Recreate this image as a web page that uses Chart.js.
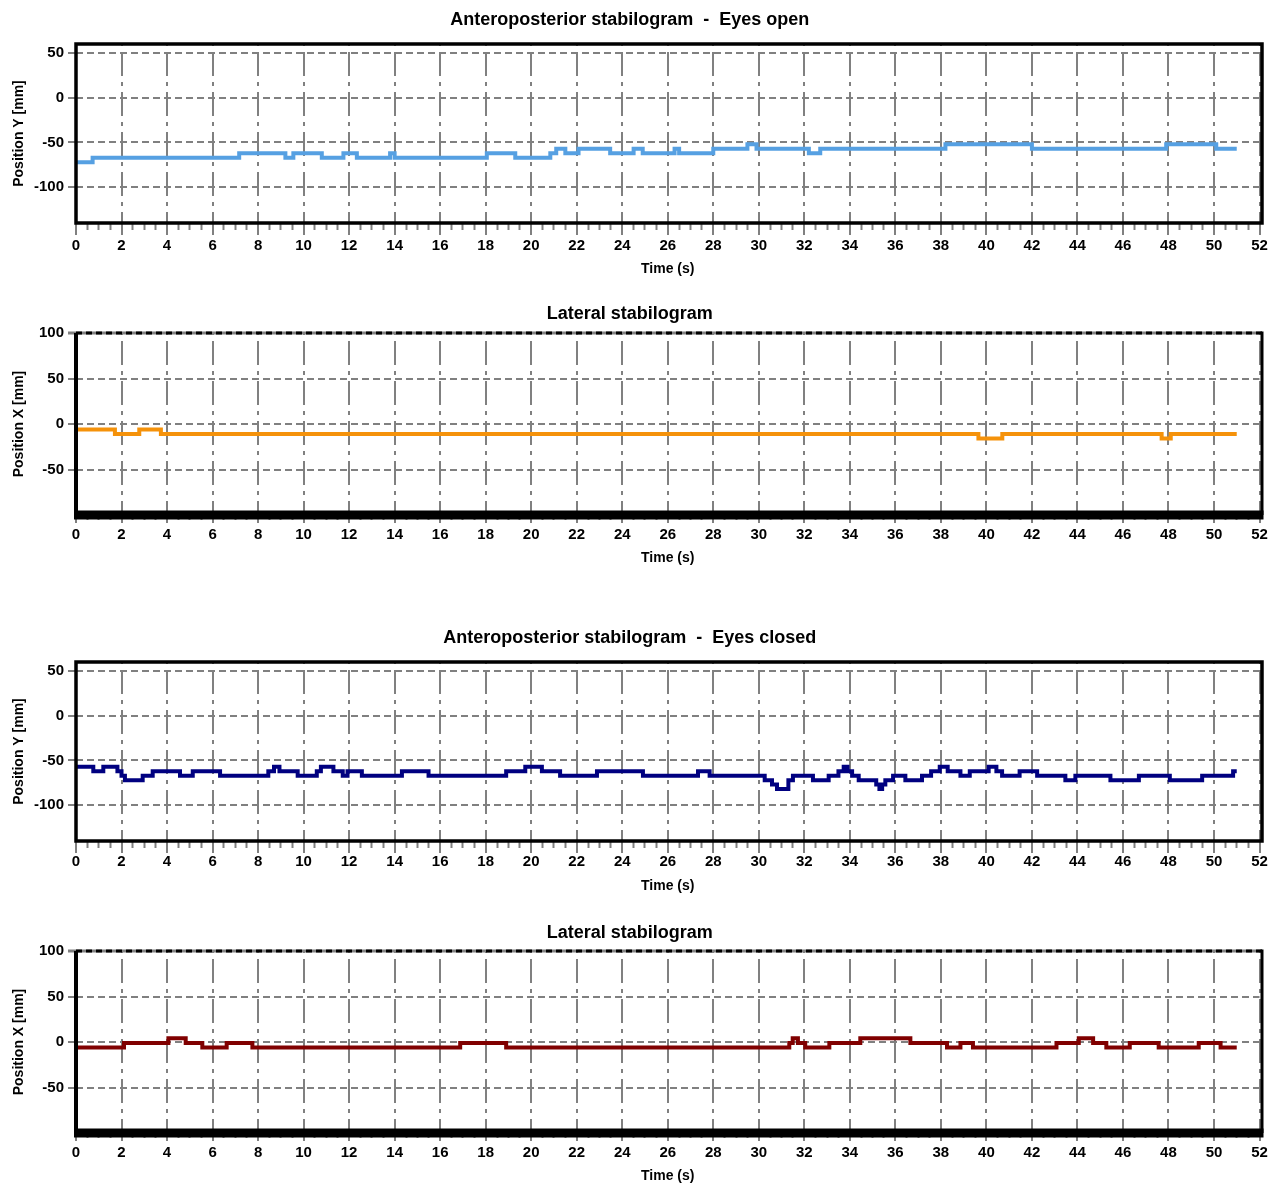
<!DOCTYPE html>
<html>
<head>
<meta charset="utf-8">
<title>Stabilograms</title>
<script src="https://cdn.jsdelivr.net/npm/chart.js@4.4.1/dist/chart.umd.min.js"></script>
<style>
  html, body { margin: 0; padding: 0; background: #fff; overflow: hidden; }
  .panel { position: absolute; left: 0; }
</style>
</head>
<body>
<canvas id="apOpen" class="panel" style="top:0px" width="1282" height="278"></canvas>
<canvas id="latOpen" class="panel" style="top:289px" width="1282" height="281"></canvas>
<canvas id="apClosed" class="panel" style="top:618px" width="1282" height="278"></canvas>
<canvas id="latClosed" class="panel" style="top:907px" width="1282" height="281"></canvas>
<script>
// time (s) where each level starts, and the level (mm) held until the next point
const apOpenT = [0, 0.73, 7.17, 9.2, 9.55, 10.8, 11.75, 12.34, 13.8, 14.0, 18.05, 19.3, 20.84, 21.1, 21.5, 22.08, 23.47, 24.5, 24.9, 26.3, 26.5, 28.0, 29.5, 29.9, 32.2, 32.7, 38.2, 42.0, 47.9, 50.1, 51.0];
const apOpenY = [-72, -67, -62, -67, -62, -67, -62, -67, -62, -67, -62, -67, -62, -57, -62, -57, -62, -57, -62, -57, -62, -57, -52, -57, -62, -57, -52, -57, -52, -57, -57];

const latOpenT = [0, 1.71, 2.78, 3.73, 39.65, 40.7, 47.7, 48.1, 51];
const latOpenY = [-6, -11, -6, -11, -16, -11, -16, -11, -11];

const apClosedT = [0, 0.76, 1.2, 1.82, 2.0, 2.15, 2.93, 3.37, 4.57, 5.13,
  6.33, 8.45, 8.7, 8.94, 9.74, 10.58, 10.76, 11.31, 11.72, 11.93,
  12.56, 14.32, 15.49, 18.9, 19.74, 20.47, 21.27, 22.89, 24.91, 27.33,
  27.84, 30.26, 30.58, 30.8, 31.3, 31.5, 32.38, 33.07, 33.5, 33.73,
  33.9, 34.1, 34.39, 35.16, 35.3, 35.42, 35.56, 35.9, 36.44, 37.17,
  37.57, 37.95, 38.3, 38.86, 39.27, 40.1, 40.44, 40.69, 41.46, 42.23,
  43.47, 43.91, 45.45, 46.7, 48.06, 49.48, 50.84, 51];
const apClosedY = [-57, -62, -57, -62, -67, -72, -67, -62, -67, -62,
  -67, -62, -57, -62, -67, -62, -57, -62, -67, -62,
  -67, -62, -67, -62, -57, -62, -67, -62, -67, -62,
  -67, -72, -77, -82, -72, -67, -72, -67, -62, -57,
  -62, -67, -72, -77, -82, -77, -72, -67, -72, -67,
  -62, -57, -62, -67, -62, -57, -62, -67, -62, -67,
  -72, -67, -72, -67, -72, -67, -62, -62];

const latClosedT = [0, 2.11, 4.06, 4.82, 5.55, 6.62, 7.75, 16.88, 18.9, 31.34, 31.49, 31.72, 32.04, 33.1, 34.46, 36.66, 38.27, 38.86, 39.41, 43.08, 44.06, 44.69, 45.27, 46.3, 47.57, 49.33, 50.29, 51];
const latClosedY = [-6, -1, 4, -1, -6, -1, -6, -1, -6, -1, 4, -1, -6, -1, 4, -1, -6, -1, -6, -1, 4, -1, -6, -1, -6, -1, -6, -6];

const xTicks = [0, 2, 4, 6, 8, 10, 12, 14, 16, 18, 20, 22, 24, 26, 28, 30, 32, 34, 36, 38, 40, 42, 44, 46, 48, 50, 52];
const yTicksAP = [50, 0, -50, -100];
const yTicksLat = [100, 50, 0, -50];

const GRID = "#808080";

Chart.defaults.font.family = '"Liberation Sans", Arial, sans-serif';
Chart.defaults.font.weight = "bold";
Chart.defaults.color = "#000";

// small tick marks between the labelled ones (every 0.5 s)
const xMinorTicks = [];
for (let i = 0; i <= 104; i++) {
  if (i % 4 !== 0) xMinorTicks.push(i / 2);
}

// black frame round the plot area; lateral plots get a dashed top and heavy bottom
const framePlugin = {
  id: "frame",
  afterDraw(chart, args, opts) {
    const { ctx, chartArea: a } = chart;
    const r = a.right + 2.5;
    ctx.save();
    ctx.strokeStyle = "#000";
    if (opts.lateral) {
      ctx.lineWidth = 3;
      ctx.strokeStyle = GRID;
      ctx.beginPath(); ctx.moveTo(a.left - 8, a.top); ctx.lineTo(r, a.top); ctx.stroke();
      ctx.strokeStyle = "#000";
      ctx.setLineDash([6, 4]);
      ctx.beginPath(); ctx.moveTo(a.left, a.top); ctx.lineTo(r, a.top); ctx.stroke();
      ctx.setLineDash([]);
      ctx.lineWidth = 4;
      ctx.beginPath(); ctx.moveTo(a.left, a.top); ctx.lineTo(a.left, a.bottom); ctx.stroke();
      ctx.lineWidth = 3;
      ctx.beginPath(); ctx.moveTo(r, a.top - 1.5); ctx.lineTo(r, a.bottom); ctx.stroke();
      ctx.lineWidth = 9;
      ctx.beginPath(); ctx.moveTo(a.left - 2, a.bottom); ctx.lineTo(r + 1.5, a.bottom); ctx.stroke();
    } else {
      ctx.lineWidth = 3.5;
      ctx.strokeRect(a.left, a.top, r - a.left, a.bottom - a.top);
    }
    ctx.restore();
  }
};

function buildChart(id, p) {
  const canvas = document.getElementById(id);
  if (!canvas) return null;
  const ctx = canvas.getContext("2d");
  const points = p.t.map((t, i) => ({ x: t, y: p.y[i] }));

  return new Chart(ctx, {
    type: "line",
    data: {
      datasets: [{
        data: points,
        borderColor: p.color,
        borderWidth: 4,
        stepped: true,
        pointRadius: 0,
        fill: false
      }]
    },
    options: {
      responsive: false,
      animation: false,
      devicePixelRatio: 1,
      layout: { padding: { left: 0, right: 22.5, top: 0, bottom: 0 } },
      plugins: {
        legend: { display: false },
        tooltip: { enabled: false },
        title: {
          display: true,
          text: p.title,
          color: "#000",
          font: { size: 18, weight: "bold" },
          padding: { top: p.titlePad[0], bottom: p.titlePad[1] }
        },
        frame: { lateral: p.lateral }
      },
      scales: {
        xMinor: {
          type: "linear",
          position: "bottom",
          weight: 0,
          min: 0,
          max: 52,
          afterBuildTicks: (s) => { s.ticks = xMinorTicks.map((v) => ({ value: v })); },
          afterFit: (s) => { s.height = 0; },
          ticks: { display: false },
          grid: { drawOnChartArea: false, tickLength: p.minorTick, tickColor: GRID, tickWidth: 2 },
          border: { display: false }
        },
        x: {
          type: "linear",
          position: "bottom",
          weight: 1,
          min: 0,
          max: 52,
          afterBuildTicks: (s) => { s.ticks = xTicks.map((v) => ({ value: v })); },
          afterFit: (s) => { s.height = 55; },
          ticks: { color: "#000", font: { size: 15, weight: "bold" }, padding: p.xTickPad, maxRotation: 0, autoSkip: false },
          grid: { color: GRID, lineWidth: 2, tickLength: p.majorTick, tickColor: GRID, tickWidth: 2 },
          border: { display: false, dash: [24, 6, 4, 6], dashOffset: 32 },
          title: {
            display: true,
            text: "Time (s)",
            color: "#000",
            font: { size: 14, weight: "bold" },
            padding: { top: 0, bottom: p.xTitlePad }
          }
        },
        y: {
          type: "linear",
          position: "left",
          min: p.yMin,
          max: p.yMax,
          afterBuildTicks: (s) => {
            s.ticks = p.yTicks.slice().sort((a, b) => a - b).map((v) => ({ value: v }));
          },
          afterFit: (s) => { s.width = 76; },
          ticks: { color: "#000", font: { size: 15, weight: "bold" }, padding: 4 },
          grid: { color: GRID, lineWidth: 2, tickLength: 8, tickColor: GRID, tickWidth: 2 },
          border: { display: false, dash: [7, 4] },
          title: {
            display: true,
            text: p.yTitle,
            color: "#000",
            font: { size: 14, weight: "bold" },
            padding: { top: 10.6, bottom: 0 }
          }
        }
      }
    },
    plugins: [framePlugin]
  });
}

buildChart("apOpen", {
  t: apOpenT, y: apOpenY, color: "#56a0e2",
  title: "Anteroposterior stabilogram  -  Eyes open",
  yTitle: "Position Y [mm]", yMin: -140, yMax: 60, yTicks: yTicksAP,
  lateral: false, titlePad: [9.2, 13.2], majorTick: 12, minorTick: 7, xTickPad: 2, xTitlePad: 0.6
});

buildChart("latOpen", {
  t: latOpenT, y: latOpenY, color: "#f5920a",
  title: "Lateral stabilogram",
  yTitle: "Position X [mm]", yMin: -100, yMax: 100, yTicks: yTicksLat,
  lateral: true, titlePad: [14.2, 8.2], majorTick: 8, minorTick: 5, xTickPad: 3, xTitlePad: 3.6
});

buildChart("apClosed", {
  t: apClosedT, y: apClosedY, color: "#000080",
  title: "Anteroposterior stabilogram  -  Eyes closed",
  yTitle: "Position Y [mm]", yMin: -140, yMax: 60, yTicks: yTicksAP,
  lateral: false, titlePad: [9.2, 13.2], majorTick: 12, minorTick: 7, xTickPad: 0, xTitlePad: 1.6
});

buildChart("latClosed", {
  t: latClosedT, y: latClosedY, color: "#800000",
  title: "Lateral stabilogram",
  yTitle: "Position X [mm]", yMin: -100, yMax: 100, yTicks: yTicksLat,
  lateral: true, titlePad: [15.2, 7.2], majorTick: 8, minorTick: 5, xTickPad: 3, xTitlePad: 3.6
});
</script>
</body>
</html>
